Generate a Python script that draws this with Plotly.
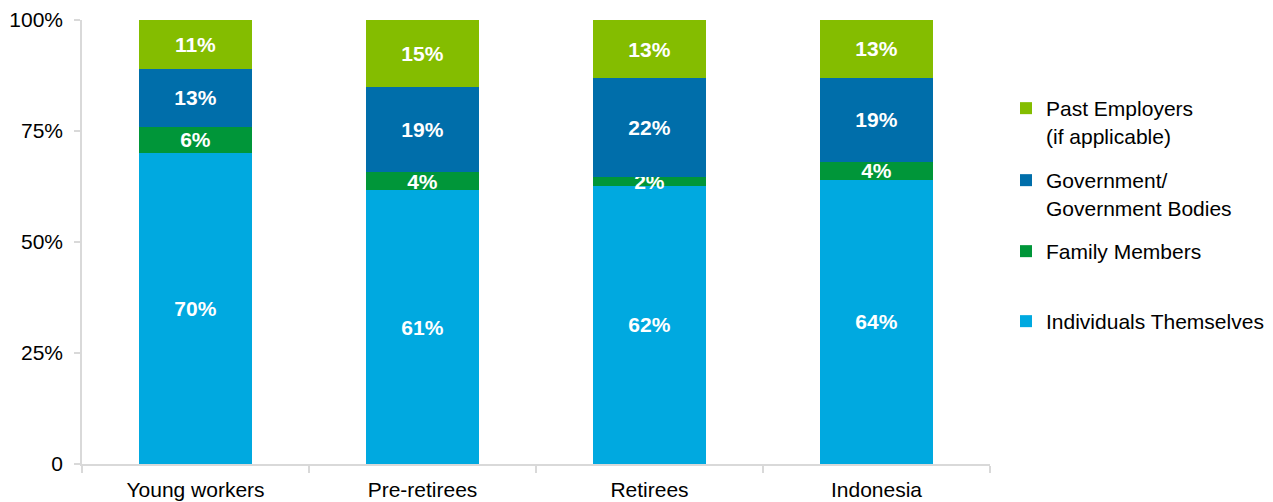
import plotly.graph_objects as go

categories = ["Young workers", "Pre-retirees", "Retirees", "Indonesia"]
individuals = [70, 61, 62, 64]
family = [6, 4, 2, 4]
government = [13, 19, 22, 19]
past_employers = [11, 15, 13, 13]

series = [
    ("Individuals Themselves", individuals, "#00A9E0", "legend4"),
    ("Family Members", family, "#009639", "legend3"),
    ("Government/<br>Government Bodies", government, "#006EAA", "legend2"),
    ("Past Employers<br>(if applicable)", past_employers, "#84BD00", "legend"),
]

FONT = "Liberation Sans, Arial, sans-serif"
W, H = 1273, 502

fig = go.Figure()
for name, vals, color, lg in series:
    fig.add_trace(go.Bar(
        x=categories, y=vals, name=name,
        marker=dict(color=color, line=dict(width=0)),
        text=[f"{v}%" for v in vals],
        textposition="inside", insidetextanchor="middle",
        constraintext="none",
        textfont=dict(family=FONT, size=21, color="white", weight="bold"),
        legend=lg, showlegend=True,
    ))

# vertical position (px from top) of each legend block's first line
legend_y = {"legend": 102, "legend2": 174, "legend3": 245, "legend4": 315}
legend_x = (1033 - 27) / W
legend_common = dict(
    xref="container", yref="container", xanchor="left", yanchor="top",
    bgcolor="rgba(0,0,0,0)", borderwidth=0, valign="top", visible=True,
    font=dict(family=FONT, size=21, color="#000000"),
)
layout_legends = {}
for key, yc in legend_y.items():
    layout_legends[key] = dict(legend_common, x=legend_x, y=1 - (yc - 14) / H)

fig.update_layout(
    width=W, height=H, showlegend=True,
    barmode="stack", barnorm="percent", bargap=0.5,
    plot_bgcolor="white", paper_bgcolor="white",
    margin=dict(l=82, r=W - 990, t=20, b=38, autoexpand=False),
    uniformtext=dict(minsize=21, mode="show"),
    font=dict(family=FONT, size=21, color="#000000"),
    xaxis=dict(
        range=[-0.5, 3.5], showline=True, linecolor="#D9D9D9", linewidth=1.5,
        ticks="outside", tickson="boundaries", ticklen=7, tickcolor="#D9D9D9",
        tickwidth=1.5, showgrid=False, automargin=False,
        ticklabelstandoff=6,
        tickfont=dict(family=FONT, size=21, color="#000000"),
    ),
    yaxis=dict(
        range=[0, 100], tickvals=[0, 25, 50, 75, 100],
        ticktext=["0", "25%", "50%", "75%", "100%"],
        showline=True, linecolor="#D9D9D9", linewidth=1.5,
        ticks="outside", ticklen=6, tickcolor="#D9D9D9", tickwidth=1.5,
        showgrid=False, zeroline=False, automargin=False,
        ticklabelstandoff=7,
        tickfont=dict(family=FONT, size=21, color="#000000"),
    ),
    **layout_legends,
)

fig.write_html("out.html")
